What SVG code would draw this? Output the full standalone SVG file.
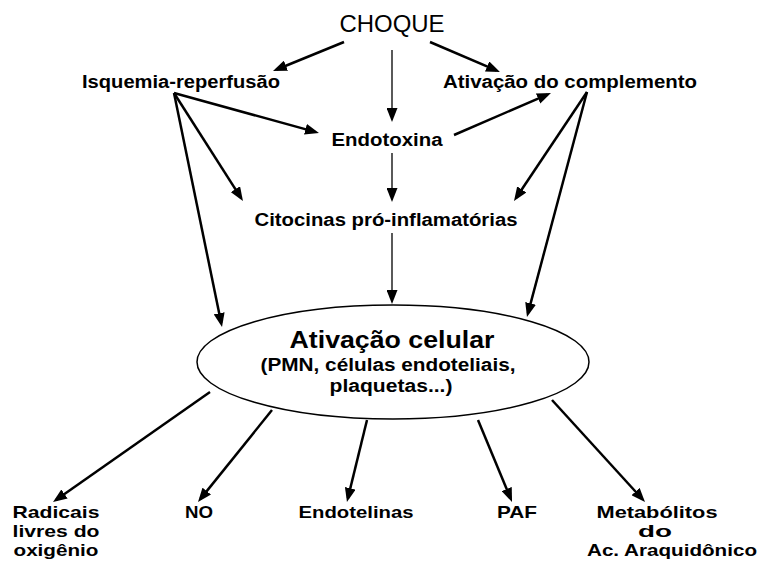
<svg xmlns="http://www.w3.org/2000/svg" width="758" height="561" viewBox="0 0 758 561">
<style>
  text { font-family: "Liberation Sans", Arial, sans-serif; font-weight: bold; fill: #000; text-anchor: middle; }
  .title { font-weight: normal; font-size: 24px; }
  .lbl { font-size: 18px; }
  .small { font-size: 17px; }
  .big { font-size: 24px; }
  .c { stroke: #000; fill: none; marker-end: url(#ah); }
  .thick { stroke-width: 2.5; }
  .thin { stroke-width: 1.3; }
</style>
<defs>
  <marker id="ah" viewBox="0 0 14 11" refX="10" refY="5.5" markerWidth="14" markerHeight="11" markerUnits="userSpaceOnUse" orient="auto">
    <path d="M0,0 L14,5.5 L0,11 z" fill="#000"/>
  </marker>
</defs>
<rect width="758" height="561" fill="#fff"/>
<g id="connectors">
  <line class="c thick" x1="344" y1="42" x2="276.7" y2="69.5"/>
  <line class="c thin" x1="392" y1="50" x2="392" y2="118"/>
  <line class="c thick" x1="430" y1="42" x2="496.3" y2="70.4"/>
  <line class="c thick" x1="174" y1="93" x2="315.1" y2="131.9"/>
  <line class="c thick" x1="174" y1="93" x2="240.8" y2="197.6"/>
  <line class="c thick" x1="174" y1="93" x2="221.2" y2="323.1"/>
  <line class="c thick" x1="454" y1="135" x2="547.3" y2="94.6"/>
  <line class="c thin" x1="392" y1="153" x2="392" y2="198"/>
  <line class="c thick" x1="587" y1="92" x2="516.2" y2="197.7"/>
  <line class="c thick" x1="587" y1="92" x2="528" y2="313.1"/>
  <line class="c thin" x1="392" y1="233" x2="392" y2="300"/>
  <line class="c thick" x1="210" y1="392" x2="56.3" y2="499.7"/>
  <line class="c thick" x1="272" y1="410" x2="200.5" y2="498.9"/>
  <line class="c thick" x1="367" y1="420" x2="347.9" y2="498.1"/>
  <line class="c thick" x1="478" y1="420" x2="510.5" y2="498.3"/>
  <line class="c thick" x1="552" y1="400" x2="642.3" y2="499"/>
</g>
<g id="choque"><text class="title" x="392" y="32" textLength="105" lengthAdjust="spacingAndGlyphs">CHOQUE</text></g>
<g id="isquemia"><text class="lbl" x="181" y="88" textLength="198" lengthAdjust="spacingAndGlyphs">Isquemia-reperfusão</text></g>
<g id="complemento"><text class="lbl" x="570" y="88" textLength="254" lengthAdjust="spacingAndGlyphs">Ativação do complemento</text></g>
<g id="endotoxina"><text class="lbl" x="387" y="146" textLength="111" lengthAdjust="spacingAndGlyphs">Endotoxina</text></g>
<g id="citocinas"><text class="lbl" x="386" y="226" textLength="263" lengthAdjust="spacingAndGlyphs">Citocinas pró-inflamatórias</text></g>
<g id="ativacao-celular">
  <ellipse cx="393" cy="362" rx="196" ry="57" fill="#fff" stroke="#000" stroke-width="1.5"/>
  <text class="big" x="392" y="348" textLength="205" lengthAdjust="spacingAndGlyphs">Ativação celular</text>
  <text class="lbl" x="388" y="371" textLength="255" lengthAdjust="spacingAndGlyphs">(PMN, células endoteliais,</text>
  <text class="lbl" x="391" y="392" textLength="123" lengthAdjust="spacingAndGlyphs">plaquetas...)</text>
</g>
<g id="radicais">
  <text class="small" x="56" y="518" textLength="87" lengthAdjust="spacingAndGlyphs">Radicais</text>
  <text class="small" x="56" y="537" textLength="87" lengthAdjust="spacingAndGlyphs">livres do</text>
  <text class="small" x="56" y="556" textLength="85" lengthAdjust="spacingAndGlyphs">oxigênio</text>
</g>
<g id="no"><text class="small" x="199" y="518" textLength="28" lengthAdjust="spacingAndGlyphs">NO</text></g>
<g id="endotelinas"><text class="small" x="356" y="518" textLength="115" lengthAdjust="spacingAndGlyphs">Endotelinas</text></g>
<g id="paf"><text class="small" x="517" y="518" textLength="40" lengthAdjust="spacingAndGlyphs">PAF</text></g>
<g id="metabolitos">
  <text class="small" x="657" y="518" textLength="121" lengthAdjust="spacingAndGlyphs">Metabólitos</text>
  <text class="small" x="655" y="537" textLength="34" lengthAdjust="spacingAndGlyphs">do</text>
  <text class="small" x="672" y="556" textLength="170" lengthAdjust="spacingAndGlyphs">Ac. Araquidônico</text>
</g>
</svg>
